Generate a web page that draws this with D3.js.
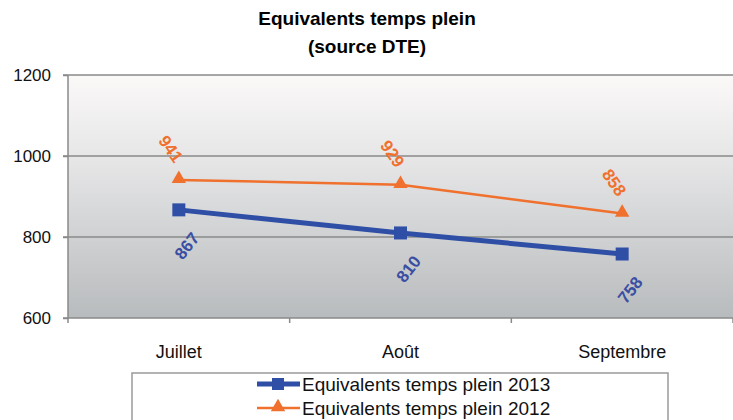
<!DOCTYPE html>
<meta charset="utf-8">
<style>
  body { margin: 0; background: #fff; }
  text { font-family: "Liberation Sans", Arial, sans-serif; }
</style>
<script src="https://d3js.org/d3.v7.min.js"></script>
<div id="chart"></div>
<script>
// data
var months = ["Juillet", "Août", "Septembre"];
var etp2013 = [867, 810, 758];
var etp2012 = [941, 929, 858];
var yTicks = [600, 800, 1000, 1200];
var seriesNames = ["Equivalents temps plein 2013", "Equivalents temps plein 2012"];

var W = 733, H = 420;
var margin = {top: 75, right: 0, bottom: 102, left: 68};
var width = W - margin.left - margin.right,
    height = H - margin.top - margin.bottom;

var svg = d3.select("#chart").append("svg")
    .attr("width", W).attr("height", H);

// background gradient of the plot area
var grad = svg.append("defs").append("linearGradient")
    .attr("id", "bg").attr("x1", 0).attr("y1", 0).attr("x2", 0).attr("y2", 1);
grad.append("stop").attr("offset", "0%").attr("stop-color", "#fbf8f8");
grad.append("stop").attr("offset", "35%").attr("stop-color", "#e6e6e7");
grad.append("stop").attr("offset", "100%").attr("stop-color", "#b8bbbd");

// title
svg.append("text").attr("x", 367).attr("y", 25)
    .attr("text-anchor", "middle").style("font-weight", "bold").style("font-size", "19px")
    .text("Equivalents temps plein");
svg.append("text").attr("x", 367).attr("y", 53)
    .attr("text-anchor", "middle").style("font-weight", "bold").style("font-size", "19px")
    .text("(source DTE)");

var g = svg.append("g").attr("transform", "translate(" + margin.left + "," + margin.top + ")");

var x = d3.scaleBand().domain(months).range([0, width]);
var y = d3.scaleLinear().domain([600, 1200]).range([height, 0]);
var cx = function(d, i) { return x(months[i]) + x.bandwidth() / 2; };

g.append("rect").attr("width", width).attr("height", height).attr("fill", "url(#bg)");

// grid lines
g.selectAll(".grid").data(yTicks.slice(1)).enter().append("line")
    .attr("x1", -5).attr("x2", width)
    .attr("y1", function(d) { return y(d); }).attr("y2", function(d) { return y(d); })
    .attr("stroke", "#8a8a8a").attr("stroke-width", 1.5);

// y axis
var yAxis = g.append("g").call(d3.axisLeft(y).tickValues(yTicks).tickFormat(d3.format("d"))
    .tickSize(5).tickPadding(12));
yAxis.select(".domain").attr("stroke", "#8a8a8a").attr("stroke-width", 1.5).attr("d", "M0,0V" + height);
yAxis.selectAll(".tick line").attr("stroke", "#8a8a8a").attr("stroke-width", 1.5);
yAxis.selectAll("text").style("font-size", "17px").attr("fill", "#111");

// x axis: ticks at band boundaries
var xAxis = g.append("g").attr("transform", "translate(0," + height + ")");
xAxis.append("line").attr("x1", -5).attr("x2", width).attr("stroke", "#8a8a8a").attr("stroke-width", 1.5);
xAxis.selectAll(".xt").data(months.concat([null])).enter().append("line")
    .attr("x1", function(d, i) { return i * x.step(); })
    .attr("x2", function(d, i) { return i * x.step(); })
    .attr("y1", 0).attr("y2", 5).attr("stroke", "#8a8a8a").attr("stroke-width", 1.5);
xAxis.selectAll(".xl").data(months).enter().append("text")
    .attr("x", function(d) { return x(d) + x.bandwidth() / 2; })
    .attr("y", 40).attr("text-anchor", "middle")
    .style("font-size", "18px").attr("fill", "#111").text(function(d) { return d; });

var line = d3.line().x(cx).y(function(d) { return y(d); });

var blue = "#2f4fa6", orange = "#f0702d";

// 2012 series (orange, triangles)
g.append("path").datum(etp2012).attr("d", line)
    .attr("fill", "none").attr("stroke", orange).attr("stroke-width", 2.5);
g.selectAll(".tri").data(etp2012).enter().append("path")
    .attr("d", d3.symbol().type(d3.symbolTriangle).size(90))
    .attr("transform", function(d, i) { return "translate(" + cx(d, i) + "," + (y(d) - 1) + ")"; })
    .attr("fill", orange);

// 2013 series (blue, squares)
g.append("path").datum(etp2013).attr("d", line)
    .attr("fill", "none").attr("stroke", blue).attr("stroke-width", 5);
g.selectAll(".sq").data(etp2013).enter().append("rect")
    .attr("x", function(d, i) { return cx(d, i) - 6.5; })
    .attr("y", function(d) { return y(d) - 6.5; })
    .attr("width", 13).attr("height", 13).attr("fill", blue);

// rotated value labels
g.selectAll(".lo").data(etp2012).enter().append("text")
    .attr("transform", function(d, i) { return "translate(" + (cx(d, i) - 8) + "," + (y(d) - 31) + ") rotate(55)"; })
    .attr("text-anchor", "middle").attr("dy", "0.35em")
    .style("font-size", "17px").style("font-weight", "bold").attr("fill", orange)
    .text(function(d) { return d; });
g.selectAll(".lb").data(etp2013).enter().append("text")
    .attr("transform", function(d, i) { return "translate(" + (cx(d, i) + 8) + "," + (y(d) + 36) + ") rotate(-52)"; })
    .attr("text-anchor", "middle").attr("dy", "0.35em")
    .style("font-size", "17px").style("font-weight", "bold").attr("fill", "#3a4fa3")
    .text(function(d) { return d; });

// legend
var leg = svg.append("g");
leg.append("rect").attr("x", 132).attr("y", 373).attr("width", 536).attr("height", 60)
    .attr("fill", "#fff").attr("stroke", "#9a9a9a").attr("stroke-width", 1.5);
var rows = leg.selectAll(".row").data(seriesNames).enter().append("g")
    .attr("transform", function(d, i) { return "translate(0," + (384 + i * 24) + ")"; });
rows.append("line").attr("x1", 257).attr("x2", 300)
    .attr("stroke", function(d, i) { return i === 0 ? blue : orange; })
    .attr("stroke-width", function(d, i) { return i === 0 ? 5 : 2.5; });
rows.each(function(d, i) {
  var r = d3.select(this);
  if (i === 0) {
    r.append("rect").attr("x", 272).attr("y", -6).attr("width", 12).attr("height", 12).attr("fill", blue);
  } else {
    r.append("path").attr("d", d3.symbol().type(d3.symbolTriangle).size(90))
      .attr("transform", "translate(278,-1)").attr("fill", orange);
  }
});
rows.append("text").attr("x", 302).attr("dy", "0.35em")
    .style("font-size", "19px").attr("fill", "#111").text(function(d) { return d; });
</script>
